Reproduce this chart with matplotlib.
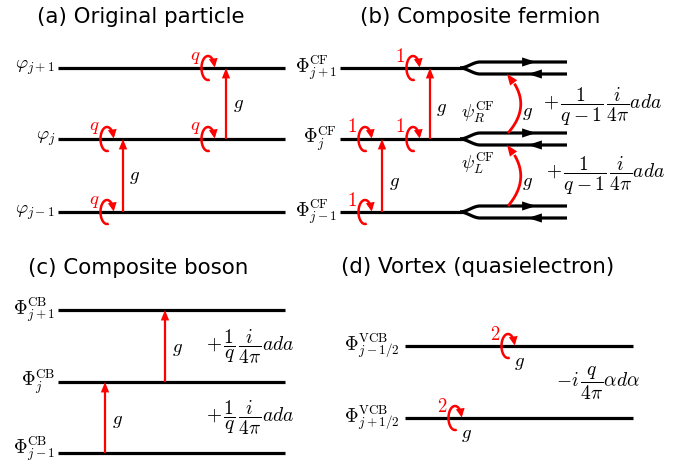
import numpy as np
import matplotlib.pyplot as plt

plt.rcParams['mathtext.fontset'] = 'cm'

# panel titles
titles = ["(a) Original particle", "(b) Composite fermion",
          "(c) Composite boson", "(d) Vortex (quasielectron)"]

# level heights (pixels from top) and labels
levels_top = [68, 139, 212]
levels_c = [310, 382, 453]
levels_d = [346, 418]
labels_a = [r"$\varphi_{j+1}$", r"$\varphi_j$", r"$\varphi_{j-1}$"]
labels_b = [r"$\Phi^{\rm CF}_{j+1}$", r"$\Phi^{\rm CF}_j$", r"$\Phi^{\rm CF}_{j-1}$"]
labels_c = [r"$\Phi^{\rm CB}_{j+1}$", r"$\Phi^{\rm CB}_j$", r"$\Phi^{\rm CB}_{j-1}$"]
labels_d = [r"$\Phi^{\rm VCB}_{j-1/2}$", r"$\Phi^{\rm VCB}_{j+1/2}$"]

term_b = r"$+\,\dfrac{1}{q-1}\,\dfrac{i}{4\pi}ada$"
term_c = r"$+\,\dfrac{1}{q}\,\dfrac{i}{4\pi}ada$"
term_d = r"$-i\,\dfrac{q}{4\pi}\alpha d\alpha$"

fig = plt.figure(figsize=(6.93, 4.66), dpi=100)
ax = fig.add_axes([0, 0, 1, 1])
ax.set_xlim(0, 693)
ax.set_ylim(466, 0)
ax.axis("off")

LW = 2.3
RED = "#ff0000"
MFS = 13.5
TFS = 14


def head(x0, y0, x1, y1, color=RED, hl=0.75, hw=0.3, ms=10):
    ax.annotate("", xy=(x1, y1), xytext=(x0, y0),
                arrowprops=dict(arrowstyle=f"-|>,head_length={hl},head_width={hw}",
                                mutation_scale=ms, color=color, lw=0,
                                shrinkA=0, shrinkB=0))


def level(x0, x1, y, label, lx, ly=None):
    ax.plot([x0, x1], [y, y], color="black", lw=LW, solid_capstyle="butt")
    ax.text(lx, y if ly is None else ly, label, ha="right", va="center", fontsize=MFS)


def loop(cx, cy, num, g_below=False):
    rx, ry = 6.5, 12
    t = np.radians(np.linspace(-75, -345, 60))
    xs = cx + rx * np.cos(t)
    ys = cy - ry * np.sin(t)
    ax.plot(xs, ys, color=RED, lw=1.8, solid_capstyle="butt")
    head(xs[-1], ys[-1], cx + rx + 0.2, cy - 0.5, hl=0.65, hw=0.32, ms=10)
    ax.text(cx - 13, cy - 12, num, color=RED, fontsize=MFS, ha="center", va="center")
    if g_below:
        ax.text(cx + 11, cy + 16, "$g$", fontsize=MFS, ha="center", va="center")


def up(x, y0, y1, gx, gy):
    ax.plot([x, x], [y0, y1 + 8], color=RED, lw=1.6, solid_capstyle="butt")
    head(x, y1 + 10, x, y1)
    ax.text(gx, gy, "$g$", fontsize=MFS, ha="center", va="center")


# titles
ax.text(141, 17, titles[0], fontsize=15.4, ha="center", va="center")
ax.text(480, 17, titles[1], fontsize=15.4, ha="center", va="center")
ax.text(138, 268, titles[2], fontsize=15.4, ha="center", va="center")
ax.text(478, 267, titles[3], fontsize=15.4, ha="center", va="center")

# (a)
for y, lab in zip(levels_top, labels_a):
    level(58, 285, y, lab, 55)
loop(107, levels_top[1], "$q$")
loop(107, levels_top[2], "$q$")
loop(208, levels_top[0], "$q$")
loop(208, levels_top[1], "$q$")
up(123, levels_top[2], levels_top[1], 134, 177)
up(226, levels_top[1], levels_top[0], 238, 105)

# (b)
for y, lab in zip(levels_top, labels_b):
    level(340, 462, y, lab, 337)
    xs = np.linspace(460, 482, 40)
    s = np.clip((xs - 460) / 20, 0, 1)
    s = s * s * (3 - 2 * s)
    for sign in (-1, 1):
        ys = y + sign * 6 * s
        ax.plot(np.r_[xs, 567], np.r_[ys, y + sign * 6], color="black", lw=LW,
                solid_capstyle="butt")
    head(524, y - 6, 536, y - 6, color="black", hl=1.0, hw=0.33, ms=10)
    head(540, y + 6, 528, y + 6, color="black", hl=1.0, hw=0.33, ms=10)
loop(413, levels_top[0], "$1$")
loop(413, levels_top[1], "$1$")
loop(365, levels_top[1], "$1$")
loop(365, levels_top[2], "$1$")
up(430, levels_top[1], levels_top[0], 441, 108)
up(382, levels_top[2], levels_top[1], 394, 182)
for ya, yb in [(levels_top[1] - 6, levels_top[0] + 6), (levels_top[2] - 6, levels_top[1] + 6)]:
    # quadratic curve bowing to the right
    tt = np.linspace(0, 1, 50)
    cxp, cyp = 534, (ya + yb) / 2
    px = (1 - tt) ** 2 * 508 + 2 * (1 - tt) * tt * cxp + tt ** 2 * 507
    py = (1 - tt) ** 2 * ya + 2 * (1 - tt) * tt * cyp + tt ** 2 * yb
    ax.plot(px[:-8], py[:-8], color=RED, lw=2, solid_capstyle="butt")
    head(px[-10], py[-10], px[-1], py[-1], hl=0.8, hw=0.32, ms=10)
ax.text(527, 113, "$g$", fontsize=MFS, ha="center", va="center")
ax.text(527, 182, "$g$", fontsize=MFS, ha="center", va="center")
ax.text(478, 112, r"$\psi^{\rm CF}_R$", fontsize=MFS, ha="center", va="center")
ax.text(478, 163, r"$\psi^{\rm CF}_L$", fontsize=MFS, ha="center", va="center")
ax.text(543, 107, term_b, fontsize=TFS, ha="left", va="center")
ax.text(546, 176, term_b, fontsize=TFS, ha="left", va="center")

# (c)
for i, (y, lab) in enumerate(zip(levels_c, labels_c)):
    level(58, 285, y, lab, 55, ly=y - 4 if i == 2 else None)
up(165, levels_c[1], levels_c[0], 177, 348)
up(105, levels_c[2], levels_c[1], 117, 420)
ax.text(206, 347, term_c, fontsize=TFS, ha="left", va="center")
ax.text(206, 418, term_c, fontsize=TFS, ha="left", va="center")

# (d)
for y, lab in zip(levels_d, labels_d):
    level(405, 633, y, lab, 400)
loop(508, levels_d[0], "$2$", g_below=True)
loop(455, levels_d[1], "$2$", g_below=True)
ax.text(556, 383, term_d, fontsize=TFS, ha="left", va="center")

fig.savefig("out.png", dpi=100)
